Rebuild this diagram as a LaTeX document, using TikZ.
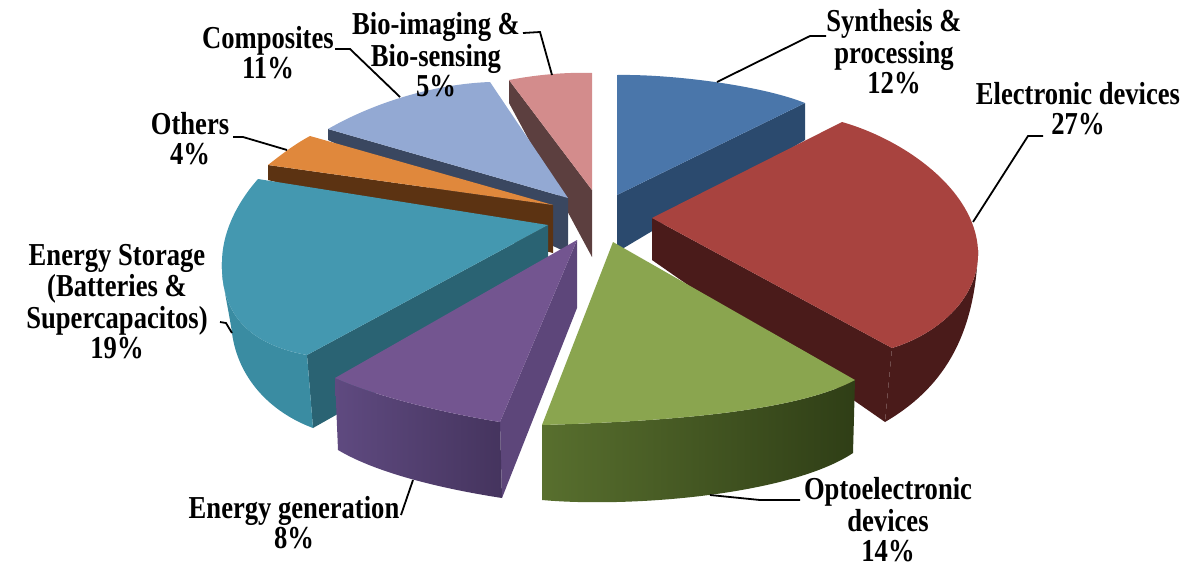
\documentclass[tikz,border=0pt]{standalone}
\usepackage{fontspec}
\setmainfont{Liberation Serif}
\usepackage{graphicx}
\definecolor{pinkTop}{HTML}{D38C8C}
\definecolor{pinkSide}{HTML}{5C3F3F}
\definecolor{blueTop}{HTML}{4A76AA}
\definecolor{blueSide}{HTML}{2B4A6E}
\definecolor{compTop}{HTML}{93A9D3}
\definecolor{compSide}{HTML}{3A4760}
\definecolor{orTop}{HTML}{E0883C}
\definecolor{orSide}{HTML}{5C3312}
\definecolor{tealTop}{HTML}{4498B0}
\definecolor{tealSide}{HTML}{2A6373}
\definecolor{tealWall}{HTML}{3A8CA2}
\definecolor{redTop}{HTML}{A8433F}
\definecolor{redSide}{HTML}{4A1B1A}
\definecolor{purTop}{HTML}{735590}
\definecolor{purSide}{HTML}{5D467A}
\definecolor{purWallL}{HTML}{5F4A80}
\definecolor{purWallR}{HTML}{45345E}
\definecolor{grTop}{HTML}{8AA54F}
\definecolor{grWallL}{HTML}{586F2E}
\definecolor{grWallR}{HTML}{2F3E16}
\newcommand{\lbltext}[1]{\scalebox{1}[1.2]{\begin{tabular}{@{}c@{}}#1\end{tabular}}}
\begin{document}
\begin{tikzpicture}[x=0.5pt,y=-0.5pt,
  lbl/.style={font=\fontsize{13.3}{12.6}\selectfont\bfseries, inner sep=0pt},
  conn/.style={line width=0.9pt, black}]
\useasboundingbox (0,0) rectangle (1189,569);

% ---- Bio-imaging (pink)
\fill[pinkSide] (509,80) -- (592,190) -- (592,257) -- (509,103) -- cycle;
\fill[pinkTop] (509,80) .. controls (535,75) and (565,72) .. (592,73) -- (592,190) -- cycle;

% ---- Synthesis (blue)
\fill[blueSide] (805,103) -- (617,195) -- (617,252) -- (805,140) -- cycle;
\fill[blueTop] (617,75) .. controls (670,74) and (760,85) .. (805,103) -- (617,195) -- cycle;

% ---- Composites
\fill[compSide] (328,129) -- (568,198) -- (568,253) -- (328,140) -- cycle;
\fill[compTop] (328,129) .. controls (375,102) and (435,84) .. (490,82) -- (568,198) -- cycle;

% ---- Others
\fill[orSide] (268,165) -- (553,205) -- (553,253) -- (268,180) -- cycle;
\fill[orTop] (268,165) .. controls (282,154) and (295,144) .. (310,136) -- (553,205) -- cycle;

% ---- Energy storage (teal)
\fill[tealSide] (307,355) -- (548,225) -- (548,295) -- (313,428) -- cycle;
\fill[tealWall] (222,262) .. controls (221,300) and (235,342) .. (307,355) -- (313,428)
  .. controls (270,412) and (238,378) .. (232,333) .. controls (228,305) and (222,285) .. (222,262) -- cycle;
\fill[tealTop] (548,225) -- (258,179) .. controls (235,205) and (222,235) .. (222,262)
  .. controls (221,300) and (235,342) .. (307,355) -- cycle;

% ---- Electronic devices (red)
\fill[redSide] (652,218) -- (892,348) -- (885,422) -- (652,260) -- cycle;
\fill[redSide] (978,250) .. controls (980,300) and (935,335) .. (892,348) -- (885,422)
  .. controls (940,390) and (975,340) .. (978,250) -- cycle;
\fill[redTop] (652,218) -- (842,122) .. controls (905,140) and (975,190) .. (978,250)
  .. controls (980,300) and (935,335) .. (892,348) -- cycle;

% ---- Energy generation (purple)
\fill[purSide] (500,422) -- (577,240) -- (577,308) -- (502,498) -- cycle;
\shade[left color=purWallL, right color=purWallR] (335,378) .. controls (380,398) and (450,414) .. (500,422)
  -- (502,498) .. controls (450,490) and (380,475) .. (338,450) -- cycle;
\fill[purTop] (577,240) -- (335,378) .. controls (380,398) and (450,414) .. (500,422) -- cycle;

% ---- Optoelectronic (green)
\shade[left color=grWallL, right color=grWallR] (542,425) .. controls (640,422) and (790,415) .. (855,380)
  -- (853,453) .. controls (790,495) and (630,508) .. (542,500) -- cycle;
\fill[grTop] (613,242) -- (542,425) .. controls (640,422) and (790,415) .. (855,380) -- cycle;

% ---- connector anchors on slices
\coordinate (pSyn) at (717,82);
\coordinate (pEle) at (973,222);
\coordinate (pOpt) at (710,495);
\coordinate (pGen) at (413,480);
\coordinate (pSto) at (232,333);
\coordinate (pOth) at (287,150);
\coordinate (pCom) at (400,97);
\coordinate (pBio) at (552,75);

% ---- labels
\node[lbl] (lSyn) at (894,56) {\lbltext{Synthesis \&\\processing\\12\%}};
\node[lbl] (lEle) at (1078,113) {\lbltext{Electronic devices\\27\%}};
\node[lbl] (lOpt) at (888,524) {\lbltext{Optoelectronic\\devices\\14\%}};
\node[lbl] (lGen) at (294,527) {\lbltext{Energy generation\\8\%}};
\node[lbl] (lSto) at (117,306) {\lbltext{Energy Storage\\(Batteries \&\\Supercapacitos)\\19\%}};
\node[lbl] (lOth) at (190,143) {\lbltext{Others\\4\%}};
\node[lbl] (lCom) at (268,57) {\lbltext{Composites\\11\%}};
\node[lbl] (lBio) at (436,59) {\lbltext{Bio-imaging \&\\Bio-sensing\\5\%}};

% ---- connectors
\coordinate (aSyn) at (826,36);
\coordinate (aEle) at (1043,136);
\coordinate (aOpt) at (800,500);
\coordinate (aGen) at (401,515);
\coordinate (aSto) at (220,322);
\coordinate (aOth) at (233,137);
\coordinate (aCom) at (335,49);
\coordinate (aBio) at (523,33);
\draw[conn] (aSyn) -- (810,36) -- (pSyn);
\draw[conn] (aEle) -- (1028,136) -- (pEle);
\draw[conn] (aOpt) -- (760,500) -- (pOpt);
\draw[conn] (aGen) -- (pGen);
\draw[conn] (aSto) -- (226,323) -- (pSto);
\draw[conn] (aOth) -- (243,137) -- (pOth);
\draw[conn] (aCom) -- (350,49) -- (pCom);
\draw[conn] (aBio) -- (540,32) -- (pBio);
\end{tikzpicture}
\end{document}
